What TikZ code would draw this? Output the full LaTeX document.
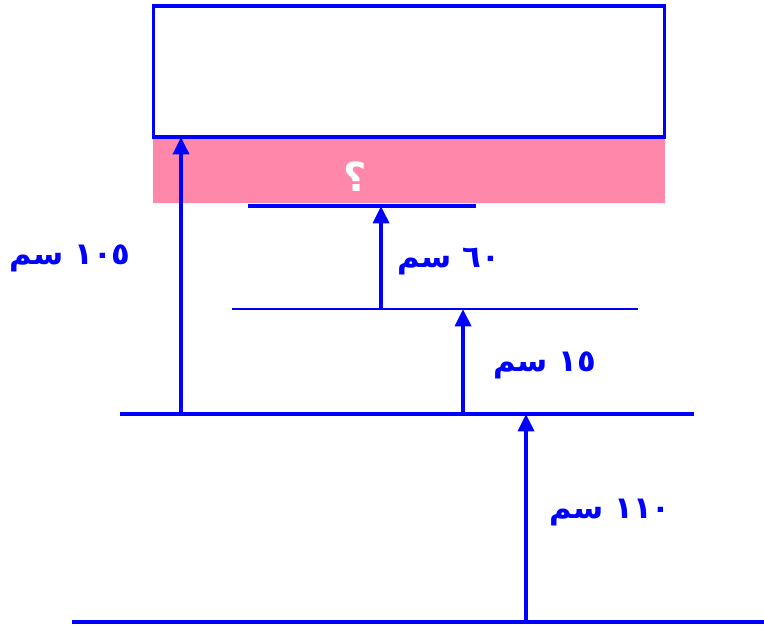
\documentclass[tikz,border=0pt]{standalone}
\usepackage{fontspec}
\newfontfamily\arabicfont[Script=Arabic]{DejaVu Sans}
\TeXXeTstate=1
\usetikzlibrary{arrows.meta}
\definecolor{lblue}{RGB}{0,0,255}
\definecolor{lpink}{RGB}{255,136,170}
\tikzset{
  lvl/.style={draw=lblue, line width=2.7pt},
  meas/.style={draw=lblue, line width=2.7pt, -{Triangle[length=13pt,width=12pt]}},
  lbl/.style={text=lblue, font=\arabicfont\bfseries\fontsize{23}{26}\selectfont, inner sep=0pt},
}
\begin{document}
\begin{tikzpicture}[x=0.75pt,y=-0.75pt]
\useasboundingbox (0,0) rectangle (764,628);
% pink band and box
\fill[lpink] (153,137) rectangle (665,203);
\node[draw=lblue, line width=2.7pt, minimum width=511*0.75pt, minimum height=131*0.75pt, inner sep=0pt] (box) at (409,71.5) {};
\node[text=white, font=\arabicfont\bfseries\fontsize{30}{32}\selectfont, inner sep=0pt] (q) at (355,177) {\beginR ؟\endR};
% levels
\coordinate (l1a) at (248,206); \coordinate (l1b) at (476,206);
\coordinate (l2a) at (232,309); \coordinate (l2b) at (638,309);
\coordinate (l3a) at (120,414); \coordinate (l3b) at (694,414);
\coordinate (l4a) at (72,622);  \coordinate (l4b) at (764,622);
\draw[lvl] (l1a) -- (l1b);
\draw[lvl, line width=2.1pt] (l2a) -- (l2b);
\draw[lvl] (l3a) -- (l3b);
\draw[lvl] (l4a) -- (l4b);
% arrows
\coordinate (a1s) at (181,414); \coordinate (a1e) at (181,137);
\coordinate (a2s) at (381,309); \coordinate (a2e) at (381,206);
\coordinate (a3s) at (463,414); \coordinate (a3e) at (463,309);
\coordinate (a4s) at (526,622); \coordinate (a4e) at (526,414);
\draw[meas] (a1s) -- (a1e);
\draw[meas] (a2s) -- (a2e);
\draw[meas] (a3s) -- (a3e);
\draw[meas] (a4s) -- (a4e);
% labels
\node[lbl] (t1) at (70,258) {\beginR\beginL ١٠٥\endL{} سم\endR};
\node[lbl] (t2) at (449,262) {\beginR\beginL ٦٠\endL{} سم\endR};
\node[lbl] (t3) at (545,365) {\beginR\beginL ١٥\endL{} سم\endR};
\node[lbl] (t4) at (610,513) {\beginR\beginL ١١٠\endL{} سم\endR};
\end{tikzpicture}
\end{document}
